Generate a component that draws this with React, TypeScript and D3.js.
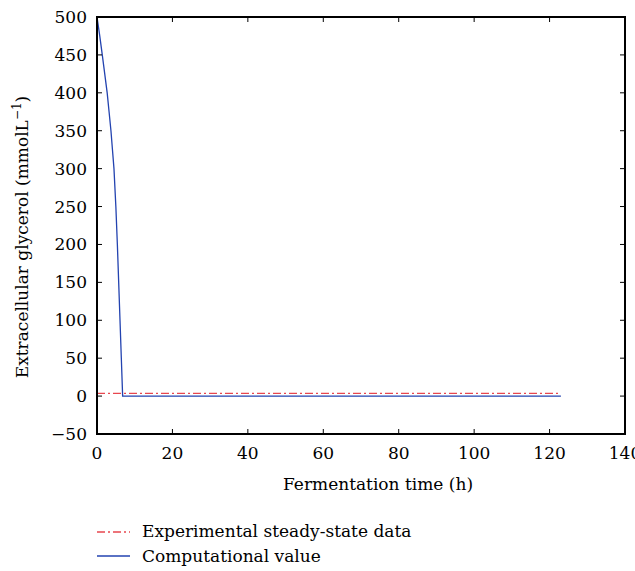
import React from "react";
import * as d3 from "d3";

const compTime = [0, 0.7, 1.4, 2.05, 2.7, 3.2, 3.7, 4.1, 4.5, 5.0, 5.4, 5.75, 6.1, 6.45, 6.8, 20, 40, 60, 80, 100, 123];
const compValue = [500, 476, 450, 425, 400, 375, 350, 325, 300, 250, 200, 150, 100, 50, 0, 0, 0, 0, 0, 0, 0];
const expTime = [0, 123];
const expValue = [3.5, 3.5];
const xTicks = [0, 20, 40, 60, 80, 100, 120, 140];
const yTicks = [-50, 0, 50, 100, 150, 200, 250, 300, 350, 400, 450, 500];
const legendLabels = ["Experimental steady-state data", "Computational value"];

const W = 635, H = 571;
const left = 97, right = 625, top = 17, bottom = 434;
const font = "'DejaVu Serif', serif";

export default function App() {
  const x = d3.scaleLinear().domain([0, 140]).range([left, right]);
  const y = d3.scaleLinear().domain([-50, 500]).range([bottom, top]);
  const line = d3.line<[number, number]>().x(d => x(d[0])).y(d => y(d[1]));
  const comp = compTime.map((t, i) => [t, compValue[i]] as [number, number]);
  const exp = expTime.map((t, i) => [t, expValue[i]] as [number, number]);
  const tl = 5;
  const fs = 17;
  return (
    <svg width={W} height={H} style={{ position: "absolute", left: 0, top: 0, background: "#fff" }} fontFamily={font}>
      <rect x={0} y={0} width={W} height={H} fill="#fff" />
      <path d={line(exp) || ""} fill="none" stroke="#e8474f" strokeWidth={1.3} strokeDasharray="8,3,2,3" />
      <path d={line(comp) || ""} fill="none" stroke="#2343b0" strokeWidth={1.3} />
      {xTicks.map(t => (
        <g key={"x" + t}>
          <line x1={x(t)} x2={x(t)} y1={bottom} y2={bottom - tl} stroke="#000" strokeWidth={1} />
          <line x1={x(t)} x2={x(t)} y1={top} y2={top + tl} stroke="#000" strokeWidth={1} />
          <text x={x(t)} y={bottom + 25} fontSize={fs} textAnchor="middle">{t}</text>
        </g>
      ))}
      {yTicks.map(t => (
        <g key={"y" + t}>
          <line x1={left} x2={left + tl} y1={y(t)} y2={y(t)} stroke="#000" strokeWidth={1} />
          <line x1={right} x2={right - tl} y1={y(t)} y2={y(t)} stroke="#000" strokeWidth={1} />
          <text x={left - 10} y={y(t) + 6} fontSize={fs} textAnchor="end">{t < 0 ? "\u2212" + Math.abs(t) : t}</text>
        </g>
      ))}
      <rect x={left} y={top} width={right - left} height={bottom - top} fill="none" stroke="#000" strokeWidth={2} />
      <text x={378} y={490} fontSize={fs} textAnchor="middle">Fermentation time (h)</text>
      <text transform={`translate(28,237) rotate(-90)`} fontSize={fs} textAnchor="middle">
        Extracellular glycerol (mmolL<tspan dy={-7} fontSize={12}>−1</tspan><tspan dy={7}>)</tspan>
      </text>
      <line x1={97} x2={130} y1={532} y2={532} stroke="#e8474f" strokeWidth={1.3} strokeDasharray="8,3,2,3" />
      <text x={142} y={537} fontSize={fs}>{legendLabels[0]}</text>
      <line x1={97} x2={130} y1={556} y2={556} stroke="#2343b0" strokeWidth={1.3} />
      <text x={142} y={562} fontSize={fs}>{legendLabels[1]}</text>
    </svg>
  );
}
